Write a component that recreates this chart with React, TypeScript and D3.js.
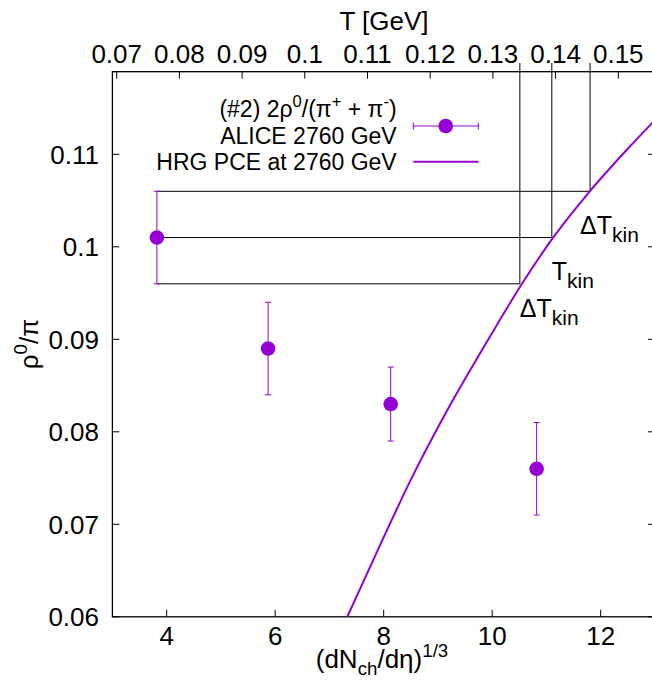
import React from 'react';
import * as d3 from 'd3';

// ALICE 2760 GeV, 2rho0/(pi+ + pi-)
const multX = [3.82, 5.87, 8.13, 10.82];
const ratio = [0.101, 0.089, 0.083, 0.076];
const ratioErr = [0.005, 0.005, 0.004, 0.005];

// HRG PCE at 2760 GeV
const hrgX = [7.33, 7.93, 8.5, 9.17, 9.9, 10.55, 11.1, 11.8, 12.5, 13.0];
const hrgY = [0.06, 0.0677, 0.0748, 0.0823, 0.0897, 0.096, 0.1008, 0.106, 0.1106, 0.1137];

// T_kin box: lower, central, upper
const tKin = [0.1343, 0.1394, 0.1455];
const tKinRatio = [0.096, 0.101, 0.106];
const tKinLabelT = [0.1343, 0.1394, 0.1439];
const tKinLabelY = [0.0924, 0.0964, 0.1014];
const tKinLabelText = ['\u0394T', 'T', '\u0394T'];

const xTicks = [4, 6, 8, 10, 12];
const yTicks = [0.06, 0.07, 0.08, 0.09, 0.1, 0.11];
const yTickLabels = ['0.06', '0.07', '0.08', '0.09', '0.1', '0.11'];
const tTicks = [0.07, 0.08, 0.09, 0.1, 0.11, 0.12, 0.13, 0.14, 0.15];
const tTickLabels = ['0.07', '0.08', '0.09', '0.1', '0.11', '0.12', '0.13', '0.14', '0.15'];

const W = 652, H = 680;
const frame = { left: 112.4, right: 654.9, top: 71.7, bottom: 616.8 };
const purple = '#9400d3';
const font = '"Liberation Sans", Arial, Helvetica, sans-serif';
const fs = 26;
const legendFs = 23;

// superscript followed by text back on the baseline
function Sup({ s, rest, size, shift }: { s: string, rest: string, size: number, shift: number }) {
    return (
        <>
            <tspan dy={-shift} fontSize={size * 0.72}>{s}</tspan>
            <tspan dy={shift}>{rest}</tspan>
        </>
    );
}

export default function App() {
    const x = d3.scaleLinear().domain([3, 13]).range([frame.left, frame.right]);
    const y = d3.scaleLinear().domain([0.06, 0.11893]).range([frame.bottom, frame.top]);
    const t = d3.scaleLinear().domain([0.069314, 0.15584]).range([frame.left, frame.right]);

    const curve = d3.line<number>()
        .curve(d3.curveMonotoneX)
        .x((d, i) => x(hrgX[i]))
        .y(d => y(d));

    const tick = 7;

    return (
        <svg width={W} height={H} style={{ position: 'absolute', left: 0, top: 0, display: 'block', background: '#fff' }}
            fontFamily={font} fontSize={fs}>
            <defs>
                <clipPath id="plot">
                    <rect x={frame.left} y={frame.top} width={frame.right - frame.left} height={frame.bottom - frame.top} />
                </clipPath>
            </defs>

            {/* frame */}
            <rect x={frame.left} y={frame.top} width={frame.right - frame.left} height={frame.bottom - frame.top}
                fill="none" stroke="#000" strokeWidth={1.3} />

            {/* bottom ticks */}
            {xTicks.map(v => (
                <g key={'x' + v}>
                    <line x1={x(v)} x2={x(v)} y1={frame.bottom} y2={frame.bottom - tick} stroke="#000" />
                    <text x={x(v)} y={645} textAnchor="middle">{v}</text>
                </g>
            ))}

            {/* left + mirrored right ticks */}
            {yTicks.map((v, i) => (
                <g key={'y' + v}>
                    <line x1={frame.left} x2={frame.left + tick} y1={y(v)} y2={y(v)} stroke="#000" />
                    <line x1={frame.right} x2={frame.right - tick} y1={y(v)} y2={y(v)} stroke="#000" />
                    <text x={99} y={y(v)} dy="0.36em" textAnchor="end">{yTickLabels[i]}</text>
                </g>
            ))}

            {/* top T axis */}
            {tTicks.map((v, i) => (
                <g key={'t' + v}>
                    <line x1={t(v)} x2={t(v)} y1={frame.top} y2={frame.top + tick} stroke="#000" />
                    <text x={t(v)} y={63} textAnchor="middle">{tTickLabels[i]}</text>
                </g>
            ))}

            {/* axis titles */}
            <text x={384} y={30} textAnchor="middle">T [GeV]</text>
            <text x={382} y={668} textAnchor="middle">
                (dN<tspan dy={7} fontSize={fs * 0.72}>ch</tspan><tspan dy={-7}>/d{'\u03b7'})</tspan>
                <tspan dy={-11} fontSize={fs * 0.72}>1/3</tspan>
            </text>
            <text transform="translate(38,344) rotate(-90)" textAnchor="middle">
                {'\u03c1'}<Sup s="0" rest={'/\u03c0'} size={fs} shift={11} />
            </text>

            {/* T_kin box */}
            {tKin.map((v, i) => (
                <g key={'k' + i} stroke="#000" strokeWidth={1}>
                    <line x1={t(v)} x2={t(v)} y1={63} y2={y(tKinRatio[i])} />
                    <line x1={x(multX[0])} x2={t(v)} y1={y(tKinRatio[i])} y2={y(tKinRatio[i])} />
                </g>
            ))}
            {tKinLabelText.map((s, i) => (
                <text key={'kl' + i} x={t(tKinLabelT[i])} y={y(tKinLabelY[i])} fontSize={25}>
                    {s}<tspan dy={8} fontSize={21}>kin</tspan>
                </text>
            ))}

            {/* HRG curve */}
            <path d={curve(hrgY) || ''} fill="none" stroke={purple} strokeWidth={2} clipPath="url(#plot)" />

            {/* data */}
            {multX.map((v, i) => (
                <g key={'d' + i} stroke={purple} strokeWidth={1}>
                    <line x1={x(v)} x2={x(v)} y1={y(ratio[i] - ratioErr[i])} y2={y(ratio[i] + ratioErr[i])} />
                    <line x1={x(v) - 3} x2={x(v) + 3} y1={y(ratio[i] - ratioErr[i])} y2={y(ratio[i] - ratioErr[i])} />
                    <line x1={x(v) - 3} x2={x(v) + 3} y1={y(ratio[i] + ratioErr[i])} y2={y(ratio[i] + ratioErr[i])} />
                    <circle cx={x(v)} cy={y(ratio[i])} r={7.3} fill={purple} stroke="none" />
                </g>
            ))}

            {/* legend */}
            <g fontSize={legendFs}>
                <text x={396.7} y={116.7} textAnchor="end">
                    (#2) 2{'\u03c1'}<Sup s="0" rest={'/(\u03c0'} size={legendFs} shift={10} />
                    <Sup s="+" rest={' + \u03c0'} size={legendFs} shift={10} />
                    <Sup s="-" rest=")" size={legendFs} shift={10} />
                </text>
                <text x={396.7} y={144} textAnchor="end">ALICE 2760 GeV</text>
                <text x={396.7} y={170} textAnchor="end">HRG PCE at 2760 GeV</text>
            </g>
            <g stroke={purple} strokeWidth={1}>
                <line x1={413.3} x2={478.3} y1={126} y2={126} />
                <line x1={413.3} x2={413.3} y1={122.5} y2={129.5} />
                <line x1={478.3} x2={478.3} y1={122.5} y2={129.5} />
                <circle cx={445.7} cy={126} r={7.3} fill={purple} stroke="none" />
            </g>
            <line x1={413.3} x2={478.3} y1={161.7} y2={161.7} stroke={purple} strokeWidth={2} />
        </svg>
    );
}
